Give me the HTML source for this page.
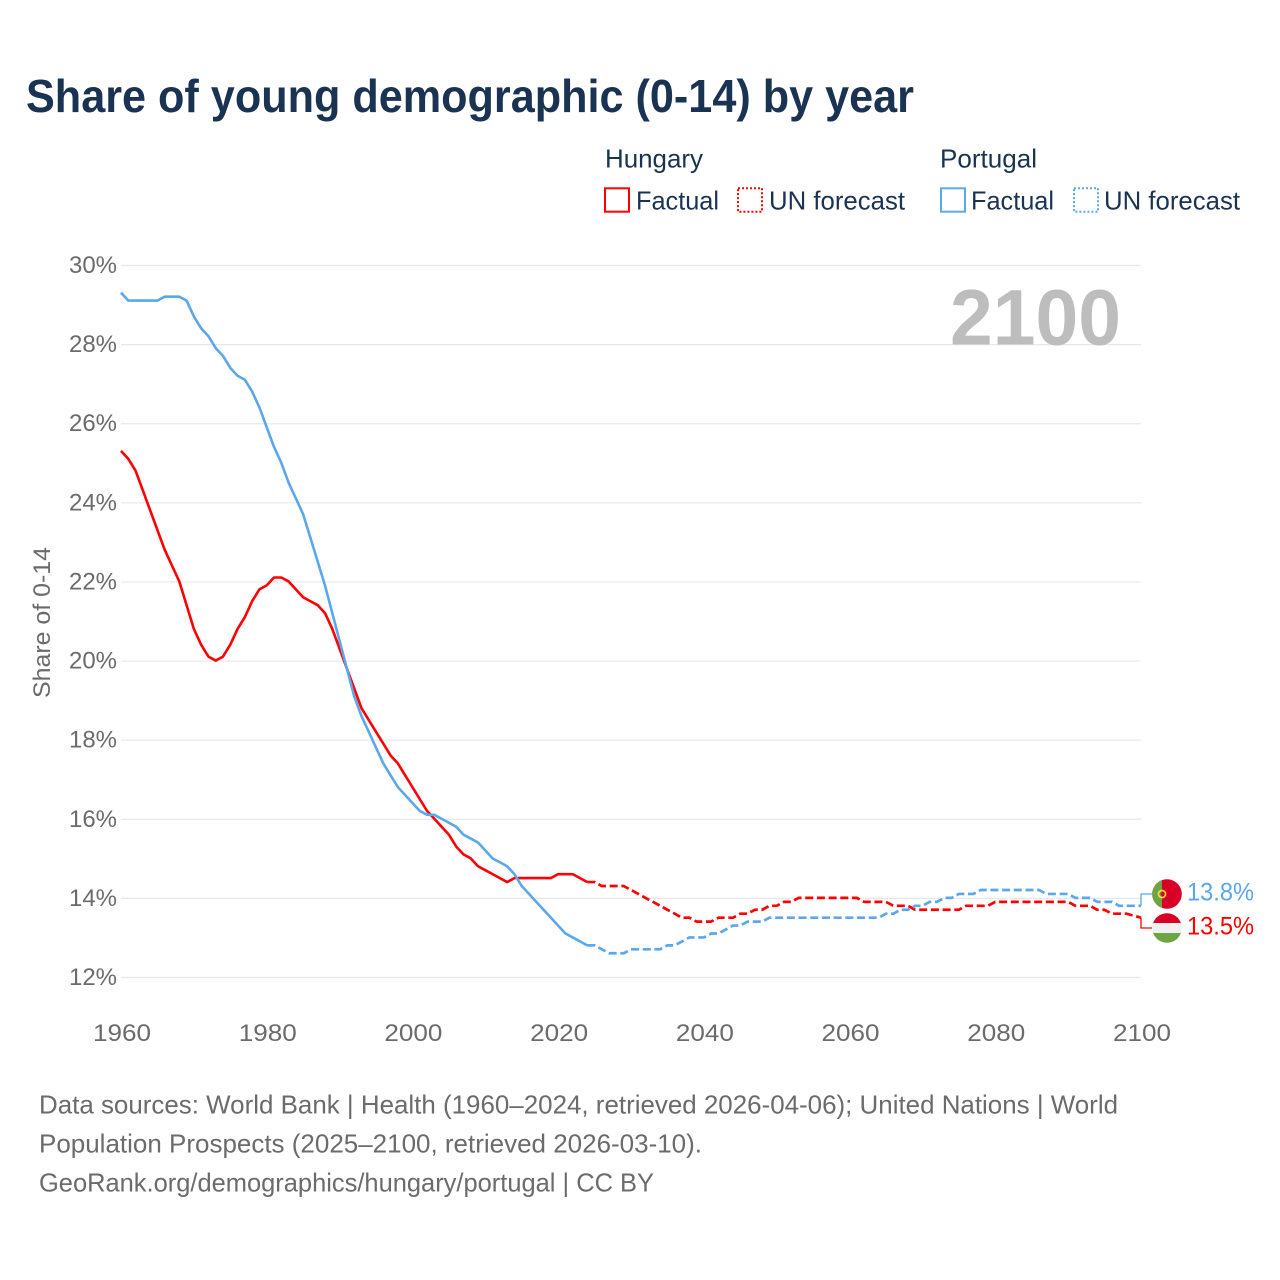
<!DOCTYPE html>
<html lang="en">
<head>
<meta charset="utf-8">
<title>Share of young demographic (0-14) by year</title>
<style>
html,body{margin:0;padding:0;background:#fff;width:1280px;height:1280px;overflow:hidden}
svg{display:block}
text{font-family:"Liberation Sans",sans-serif}
.navy{fill:#1a3352}
.grey{fill:#6b6b6b}
</style>
</head>
<body>
<svg id="chart" xmlns="http://www.w3.org/2000/svg" width="1280" height="1280" viewBox="0 0 1280 1280">
  <defs>
    <clipPath id="pt-clip"><circle cx="1167" cy="894" r="14.8"/></clipPath>
    <clipPath id="hu-clip"><circle cx="1167" cy="928" r="14.8"/></clipPath>
  </defs>
  <text class="navy" x="26" y="112" font-size="46" font-weight="700" textLength="888" lengthAdjust="spacingAndGlyphs">Share of young demographic (0-14) by year</text>

  <g>
    <text class="navy" x="605" y="167.5" font-size="26" textLength="98" lengthAdjust="spacingAndGlyphs">Hungary</text>
    <rect x="605" y="188.3" width="24" height="23.4" fill="none" stroke="#ff0000" stroke-width="2"/>
    <text class="navy" x="636" y="209.5" font-size="26" textLength="83" lengthAdjust="spacingAndGlyphs">Factual</text>
    <rect x="738" y="188.3" width="24" height="23.4" fill="none" stroke="#ff0000" stroke-width="2" stroke-dasharray="2 2"/>
    <text class="navy" x="769" y="209.5" font-size="26" textLength="136" lengthAdjust="spacingAndGlyphs">UN forecast</text>
    <text class="navy" x="940" y="167.5" font-size="26" textLength="97" lengthAdjust="spacingAndGlyphs">Portugal</text>
    <rect x="941" y="188.3" width="24" height="23.4" fill="none" stroke="#5ba7ec" stroke-width="2"/>
    <text class="navy" x="971" y="209.5" font-size="26" textLength="83" lengthAdjust="spacingAndGlyphs">Factual</text>
    <rect x="1074" y="188.3" width="24" height="23.4" fill="none" stroke="#5ba7ec" stroke-width="2" stroke-dasharray="2 2"/>
    <text class="navy" x="1104" y="209.5" font-size="26" textLength="136" lengthAdjust="spacingAndGlyphs">UN forecast</text>
  </g>

  <g id="grid"></g>
  <g id="y-axis"></g>
  <g id="x-axis"></g>
  <text class="grey" transform="translate(50,698) rotate(-90)" font-size="24" textLength="151" lengthAdjust="spacingAndGlyphs">Share of 0-14</text>
  <text x="950" y="344.5" font-size="79" font-weight="700" fill="#bdbdbd" textLength="171" lengthAdjust="spacingAndGlyphs">2100</text>
  <g id="series"></g>

  <g clip-path="url(#pt-clip)">
    <rect x="1150" y="878" width="34" height="34" fill="#d80027"/>
    <rect x="1150" y="878" width="12" height="34" fill="#6da544"/>
    <circle cx="1162" cy="894" r="3.6" fill="none" stroke="#ffda44" stroke-width="1.6"/>
    <rect x="1160.8" y="892.5" width="2.4" height="3" fill="#d80027"/>
  </g>
  <g clip-path="url(#hu-clip)">
    <rect x="1150" y="912" width="34" height="11" fill="#d80027"/>
    <rect x="1150" y="923" width="34" height="10" fill="#f0f0f0"/>
    <rect x="1150" y="933" width="34" height="12" fill="#6da544"/>
  </g>
  <text id="label-portugal" x="1187" y="900.5" font-size="25" fill="#5ba7ec" textLength="67" lengthAdjust="spacingAndGlyphs"></text>
  <text id="label-hungary" x="1187" y="934.5" font-size="25" fill="#ff0000" textLength="67" lengthAdjust="spacingAndGlyphs"></text>

  <g class="grey" font-size="26">
    <text class="grey" x="39" y="1113.5" textLength="1079" lengthAdjust="spacingAndGlyphs">Data sources: World Bank | Health (1960–2024, retrieved 2026-04-06); United Nations | World</text>
    <text class="grey" x="39" y="1152.5" textLength="663" lengthAdjust="spacingAndGlyphs">Population Prospects (2025–2100, retrieved 2026-03-10).</text>
    <text class="grey" x="39" y="1191.5" textLength="615" lengthAdjust="spacingAndGlyphs">GeoRank.org/demographics/hungary/portugal | CC BY</text>
  </g>
</svg>
<script>
const yTickValues = [12, 14, 16, 18, 20, 22, 24, 26, 28, 30];
const xTickValues = [1960, 1980, 2000, 2020, 2040, 2060, 2080, 2100];
const factualStartYear = 1960;
const forecastStartYear = 2024;
const hungaryFactual = [25.3,25.1,24.8,24.3,23.8,23.3,22.8,22.4,22.0,21.4,20.8,20.4,20.1,20.0,20.1,20.4,20.8,21.1,21.5,21.8,21.9,22.1,22.1,22.0,21.8,21.6,21.5,21.4,21.2,20.8,20.3,19.8,19.3,18.8,18.5,18.2,17.9,17.6,17.4,17.1,16.8,16.5,16.2,16.0,15.8,15.6,15.3,15.1,15.0,14.8,14.7,14.6,14.5,14.4,14.5,14.5,14.5,14.5,14.5,14.5,14.6,14.6,14.6,14.5,14.4];
const portugalFactual = [29.3,29.1,29.1,29.1,29.1,29.1,29.2,29.2,29.2,29.1,28.7,28.4,28.2,27.9,27.7,27.4,27.2,27.1,26.8,26.4,25.9,25.4,25.0,24.5,24.1,23.7,23.1,22.5,21.9,21.2,20.5,19.8,19.1,18.6,18.2,17.8,17.4,17.1,16.8,16.6,16.4,16.2,16.1,16.1,16.0,15.9,15.8,15.6,15.5,15.4,15.2,15.0,14.9,14.8,14.6,14.3,14.1,13.9,13.7,13.5,13.3,13.1,13.0,12.9,12.8];
const hungaryForecast = [14.4,14.4,14.3,14.3,14.3,14.3,14.2,14.1,14.0,13.9,13.8,13.7,13.6,13.5,13.5,13.4,13.4,13.4,13.5,13.5,13.5,13.6,13.6,13.7,13.7,13.8,13.8,13.9,13.9,14.0,14.0,14.0,14.0,14.0,14.0,14.0,14.0,14.0,13.9,13.9,13.9,13.9,13.8,13.8,13.8,13.7,13.7,13.7,13.7,13.7,13.7,13.7,13.8,13.8,13.8,13.8,13.9,13.9,13.9,13.9,13.9,13.9,13.9,13.9,13.9,13.9,13.9,13.8,13.8,13.8,13.7,13.7,13.6,13.6,13.6,13.55,13.5];
const portugalForecast = [12.8,12.8,12.7,12.6,12.6,12.6,12.7,12.7,12.7,12.7,12.7,12.8,12.8,12.9,13.0,13.0,13.0,13.1,13.1,13.2,13.3,13.3,13.4,13.4,13.4,13.5,13.5,13.5,13.5,13.5,13.5,13.5,13.5,13.5,13.5,13.5,13.5,13.5,13.5,13.5,13.5,13.6,13.6,13.7,13.7,13.8,13.8,13.9,13.9,14.0,14.0,14.1,14.1,14.1,14.2,14.2,14.2,14.2,14.2,14.2,14.2,14.2,14.2,14.1,14.1,14.1,14.1,14.0,14.0,14.0,13.9,13.9,13.9,13.8,13.8,13.8,13.8];

const SVG_NS = 'http://www.w3.org/2000/svg';
const RED = '#ff0000';
const BLUE = '#5ba7ec';
function xScale(year) { return 121 + (year - 1960) * (1141 - 121) / (2100 - 1960); }
function yScale(value) { return 977 - (value - 12) * (977 - 265) / (30 - 12); }
function linePath(values, startYear) {
  return values.map(function (v, i) {
    return (i ? 'L' : 'M') + xScale(startYear + i).toFixed(2) + ' ' + yScale(v).toFixed(2);
  }).join(' ');
}
const gridLayer = document.getElementById('grid');
const yLayer = document.getElementById('y-axis');
const xLayer = document.getElementById('x-axis');
const seriesLayer = document.getElementById('series');

yTickValues.forEach(function (t) {
  const line = document.createElementNS(SVG_NS, 'line');
  
  
  line.setAttribute('x1', 121);
  line.setAttribute('x2', 1141);
  line.setAttribute('y1', yScale(t) + 0.5);
  line.setAttribute('y2', yScale(t) + 0.5);
  line.setAttribute('stroke', '#e8e8e8');
  line.setAttribute('stroke-width', 1.2);
  gridLayer.appendChild(line);
  const label = document.createElementNS(SVG_NS, 'text');
  
  
  label.setAttribute('class', 'grey');
  label.setAttribute('x', 69);
  label.setAttribute('y', yScale(t) + 8);
  label.setAttribute('font-size', 24);
  label.setAttribute('textLength', 48);
  label.setAttribute('lengthAdjust', 'spacingAndGlyphs');
  label.textContent = t + '%';
  yLayer.appendChild(label);
});

xTickValues.forEach(function (t) {
  const label = document.createElementNS(SVG_NS, 'text');
  
  
  label.setAttribute('class', 'grey');
  label.setAttribute('x', xScale(t) - 28);
  label.setAttribute('y', 1041);
  label.setAttribute('font-size', 24);
  label.setAttribute('textLength', 58);
  label.setAttribute('lengthAdjust', 'spacingAndGlyphs');
  label.textContent = t;
  xLayer.appendChild(label);
});

function addForecast(values, color, name) {
  const path = document.createElementNS(SVG_NS, 'path');
  
  
  path.setAttribute('d', linePath(values, forecastStartYear));
  path.setAttribute('fill', 'none');
  path.setAttribute('stroke', color);
  path.setAttribute('stroke-width', 2.7);
  path.setAttribute('stroke-dasharray', '8 3.7');
  path.setAttribute('stroke-linejoin', 'round');
  seriesLayer.appendChild(path);
}
function addFactual(values, color, name) {
  const path = document.createElementNS(SVG_NS, 'path');
  
  
  path.setAttribute('d', linePath(values, factualStartYear));
  path.setAttribute('fill', 'none');
  path.setAttribute('stroke', color);
  path.setAttribute('stroke-width', 2.6);
  path.setAttribute('stroke-linejoin', 'round');
  seriesLayer.appendChild(path);
}
function addConnector(value, flagY, color, name) {
  const path = document.createElementNS(SVG_NS, 'path');
  
  
  path.setAttribute('d', 'M' + xScale(2100) + ' ' + yScale(value) + ' V' + flagY + ' H1152');
  path.setAttribute('fill', 'none');
  path.setAttribute('stroke', color);
  path.setAttribute('stroke-width', 1.3);
  seriesLayer.appendChild(path);
}
addForecast(hungaryForecast, RED, 'hungary-forecast-line');
addForecast(portugalForecast, BLUE, 'portugal-forecast-line');
addFactual(hungaryFactual, RED, 'hungary-factual-line');
addFactual(portugalFactual, BLUE, 'portugal-factual-line');
const lastPortugal = portugalForecast[portugalForecast.length - 1];
const lastHungary = hungaryForecast[hungaryForecast.length - 1];
addConnector(lastPortugal, 894, BLUE, 'portugal-end-connector');
addConnector(lastHungary, 928, RED, 'hungary-end-connector');
document.getElementById('label-portugal').textContent = lastPortugal.toFixed(1) + '%';
document.getElementById('label-hungary').textContent = lastHungary.toFixed(1) + '%';
</script>
</body>
</html>
